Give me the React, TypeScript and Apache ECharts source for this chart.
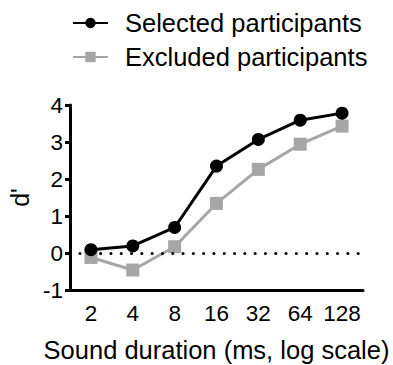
import React, { useEffect, useRef } from "react";
import * as echarts from "echarts";

const categories = ["2", "4", "8", "16", "32", "64", "128"];
const selected = [0.09, 0.19, 0.69, 2.35, 3.07, 3.59, 3.78];
const excluded = [-0.12, -0.46, 0.17, 1.34, 2.26, 2.94, 3.43];
const seriesNames = ["Selected participants", "Excluded participants"];
const yTicks = [-1, 0, 1, 2, 3, 4];

export default function App() {
  const ref = useRef<HTMLDivElement>(null);
  useEffect(() => {
    const chart = echarts.init(ref.current!, null, { renderer: "svg" });
    const font = "'Liberation Sans', Arial, sans-serif";
    chart.setOption({
      animation: false,
      textStyle: { fontFamily: font },
      legend: {
        orient: "vertical",
        left: 72,
        top: 10,
        padding: 0,
        itemWidth: 35,
        itemHeight: 13,
        itemGap: 8,
        textStyle: { fontSize: 25.5, color: "#000", fontFamily: font, padding: [0, 0, 0, 12] },
        data: seriesNames,
      },
      grid: { left: 70, right: 30, top: 105, bottom: 75, outerBoundsMode: "none", containLabel: false },
      xAxis: {
        type: "category",
        data: categories,
        boundaryGap: true,
        name: "Sound duration (ms, log scale)",
        nameLocation: "middle",
        nameGap: 60,
        nameTextStyle: { fontSize: 25.5, color: "#000", fontFamily: font, verticalAlign: "middle" },
        axisLine: { onZero: false, lineStyle: { color: "#000", width: 3 } },
        axisTick: { alignWithLabel: true, length: 6, lineStyle: { color: "#000", width: 3 } },
        axisLabel: { interval: 0, fontSize: 22.5, color: "#000", margin: 12, fontFamily: font },
        splitLine: { show: false },
      },
      yAxis: {
        type: "value",
        min: yTicks[0],
        max: yTicks[yTicks.length - 1],
        interval: 1,
        name: "d'",
        nameLocation: "middle",
        nameGap: 38,
        nameRotate: 90,
        nameTextStyle: { fontSize: 25, color: "#000", fontFamily: font },
        axisLine: { show: true, onZero: false, lineStyle: { color: "#000", width: 3 } },
        axisTick: { show: true, length: 5, lineStyle: { color: "#000", width: 3 } },
        axisLabel: { fontSize: 22.5, color: "#000", margin: 7, fontFamily: font },
        splitLine: { show: false },
      },
      series: [
        {
          name: seriesNames[1],
          type: "line",
          data: excluded,
          symbol: "rect",
          symbolSize: 13,
          itemStyle: { color: "#a6a6a6" },
          lineStyle: { color: "#a6a6a6", width: 3 },
          z: 2,
          markLine: {
            silent: true,
            symbol: "none",
            label: { show: false },
            lineStyle: { color: "#000", width: 3, type: [0.1, 10.2], cap: "round" },
            data: [[{ coord: [-0.3, 0], x: 80 }, { coord: [6.5, 0], x: 364 }]],
          },
        },
        {
          name: seriesNames[0],
          type: "line",
          data: selected,
          symbol: "circle",
          symbolSize: 13,
          itemStyle: { color: "#000" },
          lineStyle: { color: "#000", width: 3 },
          z: 3,
        },
      ],
    });
    return () => chart.dispose();
  }, []);
  return <div ref={ref} style={{ width: 393, height: 365, position: "absolute", left: 0, top: 0 }} />;
}
